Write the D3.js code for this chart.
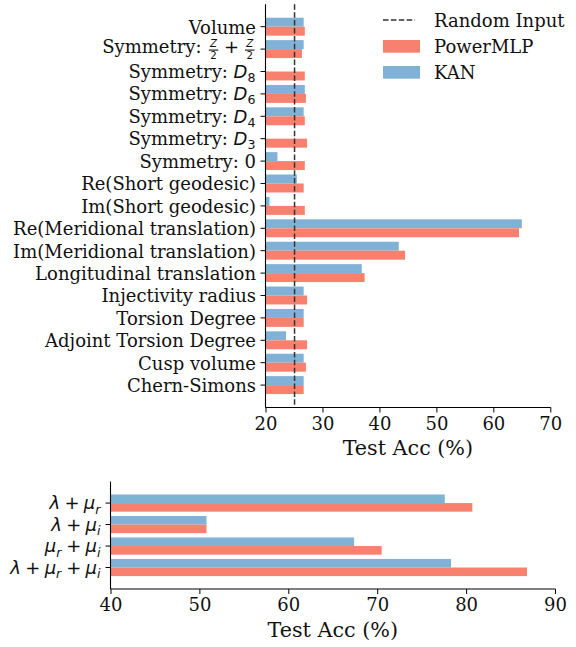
<!DOCTYPE html>
<html><head><meta charset="utf-8">
<script src="https://cdn.jsdelivr.net/npm/d3@7/dist/d3.min.js"></script>
<style>
html,body{margin:0;padding:0;background:#fff;}
svg{display:block;}
text{white-space:pre;}
</style></head>
<body>
<svg id="chart" width="576" height="647"></svg>
<script>
// ---------- data ----------
const categories = [
  "Volume", "Symmetry: $\\frac{Z}{2}+\\frac{Z}{2}$", "Symmetry: $D_8$", "Symmetry: $D_6$",
  "Symmetry: $D_4$", "Symmetry: $D_3$", "Symmetry: 0", "Re(Short geodesic)",
  "Im(Short geodesic)", "Re(Meridional translation)", "Im(Meridional translation)",
  "Longitudinal translation", "Injectivity radius", "Torsion Degree",
  "Adjoint Torsion Degree", "Cusp volume", "Chern-Simons"
];
const powerMLP = [26.9, 26.4, 26.9, 27.1, 26.9, 27.3, 26.9, 26.7, 26.9, 64.5, 44.5, 37.4, 27.3, 26.7, 27.3, 27.1, 26.7];
const kan      = [26.7, 26.7, 19.0, 26.9, 26.7, 19.0, 22.1, 25.5, 20.7, 65.0, 43.4, 36.9, 26.7, 26.7, 23.6, 26.7, 26.7];
const randomInput = 25.1;
const topTicks = [20, 30, 40, 50, 60, 70];

const combos = ["$\\lambda+\\mu_r$", "$\\lambda+\\mu_i$", "$\\mu_r+\\mu_i$", "$\\lambda+\\mu_r+\\mu_i$"];
const comboPowerMLP = [80.7, 50.8, 70.5, 86.85];
const comboKAN      = [77.6, 50.8, 67.4, 78.3];
const bottomTicks = [40, 50, 60, 70, 80, 90];

const seriesNames = ["Random Input", "PowerMLP", "KAN"];
const axisTitle = "Test Acc (%)";

// ---------- styles ----------
const RED = "#F7806F", BLUE = "#80B1D6";
const SERIF = "'DejaVu Serif', serif";
const SANS = "'DejaVu Sans', sans-serif";
const TICK_FS = 18, TITLE_FS = 20.7, INK = "#111";

const svg = d3.select("#chart");

// --- tiny mathtext renderer ---
function parseLabel(s) {
  const pieces = [];
  s.split("$").forEach((p, i) => {
    if (i % 2 === 0) { if (p) pieces.push({t: p, font: SERIF}); return; }
    let k = 0;
    while (k < p.length) {
      if (p.startsWith("\\frac", k)) {
        const m = /^\\frac\{([^}]*)\}\{([^}]*)\}/.exec(p.slice(k));
        pieces.push({frac: [m[1], m[2]]}); k += m[0].length; continue;
      }
      if (p.startsWith("\\lambda", k)) { pieces.push({t: "λ", font: SANS, it: true}); k += 7; continue; }
      if (p.startsWith("\\mu", k)) { pieces.push({t: "μ", font: SANS, it: true}); k += 3; continue; }
      const c = p[k];
      if (c === "_") { const s2 = p[k + 1]; pieces.push({t: s2, font: SANS, it: /[a-z]/i.test(s2), sub: true}); k += 2; continue; }
      if (c === "+") { pieces.push({t: "+", font: SANS, op: true}); k++; continue; }
      pieces.push({t: c, font: SANS, it: /[a-z]/i.test(c)}); k++;
    }
  });
  return pieces;
}

function measure(parent, t, font, size, italic) {
  const el = parent.append("text").text(t).attr("font-family", font).attr("font-size", size)
    .attr("font-style", italic ? "italic" : "normal");
  const w = el.node().getComputedTextLength();
  el.remove();
  return w;
}

function drawLabel(parent, str, xRight, yTick) {
  const pieces = parseLabel(str);
  const hasFrac = pieces.some(p => p.frac);
  const hasMath = str.includes("$");
  const fs = TICK_FS;
  const base = hasFrac ? 4.0 : (hasMath ? 6.3 : 6.8);
  const g = parent.append("g");
  const spans = [], bars = [];
  let cx = 0;
  pieces.forEach(p => {
    if (p.frac) {
      const sfs = 10.2;
      const wn = measure(g, p.frac[0], SANS, sfs, true), wd = measure(g, p.frac[1], SANS, sfs, false);
      const w = Math.max(wn, wd) + 2.5;
      const mid = cx + 1.5 + w / 2;
      spans.push({t: p.frac[0], x: mid - wn / 2, y: -1.7, font: SANS, size: sfs, it: true});
      spans.push({t: p.frac[1], x: mid - wd / 2, y: 9.5, font: SANS, size: sfs, it: false});
      bars.push({x1: cx + 1.5, x2: cx + 1.5 + w, y: 1.0});
      cx += w + 3;
      return;
    }
    const size = p.sub ? fs * 0.7 : fs;
    if (p.op) cx += fs * 0.24;
    const w = measure(g, p.t, p.font, size, p.it);
    spans.push({t: p.t, x: cx, y: base + (p.sub ? 4.2 : 0), font: p.font, size, it: p.it});
    cx += w + (p.sub ? 0.5 : 0);
    if (p.op) cx += fs * 0.24;
  });
  const txt = g.append("text").attr("fill", INK);
  spans.forEach(s => {
    txt.append("tspan").text(s.t).attr("x", s.x).attr("y", s.y)
      .attr("font-family", s.font).attr("font-size", s.size)
      .attr("font-style", s.it ? "italic" : "normal");
  });
  bars.forEach(b => g.append("line").attr("x1", b.x1).attr("x2", b.x2).attr("y1", b.y).attr("y2", b.y)
    .attr("stroke", INK).attr("stroke-width", 1.1));
  g.attr("transform", `translate(${xRight - cx},${yTick})`);
}

function drawPanel(opts) {
  const {x0, x1, y0, y1, domain, ticks, cats, red, blue, random} = opts;
  const x = d3.scaleLinear().domain(domain).range([x0, x1]);
  const y = d3.scaleLinear().domain([-1, cats.length]).range([y0, y1]);
  const band = y(1) - y(0);
  const bh = band * 0.4;
  const g = svg.append("g");
  const clamp = v => Math.max(x(v), x0);
  g.selectAll(".kan").data(blue).join("rect").attr("class", "kan")
    .attr("x", x0).attr("y", (d, i) => y(i) - bh)
    .attr("width", d => clamp(d) - x0).attr("height", bh).attr("fill", BLUE);
  g.selectAll(".pm").data(red).join("rect").attr("class", "pm")
    .attr("x", x0).attr("y", (d, i) => y(i))
    .attr("width", d => clamp(d) - x0).attr("height", bh).attr("fill", RED);
  if (random !== undefined) {
    g.append("line").attr("x1", x(random)).attr("x2", x(random)).attr("y1", y0).attr("y2", y1)
      .attr("stroke", "#333").attr("stroke-width", 1.5).attr("stroke-dasharray", "5.5,2.4");
  }
  const ax = g.append("g").attr("transform", `translate(0,${y1})`)
    .call(d3.axisBottom(x).tickValues(ticks).tickSize(5).tickPadding(4.5));
  ax.select(".domain").remove();
  ax.selectAll("line").attr("stroke", "#000").attr("stroke-width", 1);
  ax.selectAll("text").attr("font-family", SERIF).attr("font-size", TICK_FS).attr("fill", INK);
  g.append("line").attr("x1", x0).attr("x2", x1 + 0.5).attr("y1", y1).attr("y2", y1).attr("stroke", "#000").attr("stroke-width", 1.1);
  g.append("line").attr("x1", x0).attr("x2", x0).attr("y1", y0).attr("y2", y1).attr("stroke", "#000").attr("stroke-width", 1.1);
  cats.forEach((c, i) => {
    g.append("line").attr("x1", x0 - 5).attr("x2", x0).attr("y1", y(i)).attr("y2", y(i)).attr("stroke", "#000").attr("stroke-width", 1);
    drawLabel(g, c, x0 - 9.5, y(i));
  });
  g.append("text").text(axisTitle).attr("x", (x0 + x1) / 2).attr("y", y1 + 47.5)
    .attr("text-anchor", "middle").attr("font-family", SERIF).attr("font-size", TITLE_FS).attr("fill", INK);
}

drawPanel({x0: 265.5, x1: 550.3, y0: 4.3, y1: 407.5, domain: [20, 70], ticks: topTicks,
  cats: categories, red: powerMLP, blue: kan, random: randomInput});
drawPanel({x0: 110.5, x1: 555, y0: 481.6, y1: 589, domain: [40, 90], ticks: bottomTicks,
  cats: combos, red: comboPowerMLP, blue: comboKAN});

// legend
const lg = svg.append("g");
lg.append("line").attr("x1", 383).attr("x2", 415).attr("y1", 20).attr("y2", 20)
  .attr("stroke", "#333").attr("stroke-width", 1.5).attr("stroke-dasharray", "5.5,2.4");
lg.append("rect").attr("x", 383).attr("y", 40).attr("width", 37).attr("height", 12.7).attr("fill", RED);
lg.append("rect").attr("x", 383).attr("y", 66).attr("width", 37).attr("height", 12.7).attr("fill", BLUE);
[26.5, 52.5, 78.5].forEach((yy, i) => {
  lg.append("text").text(seriesNames[i]).attr("x", 434).attr("y", yy)
    .attr("font-family", SERIF).attr("font-size", TICK_FS).attr("fill", INK);
});
</script>
</body></html>
